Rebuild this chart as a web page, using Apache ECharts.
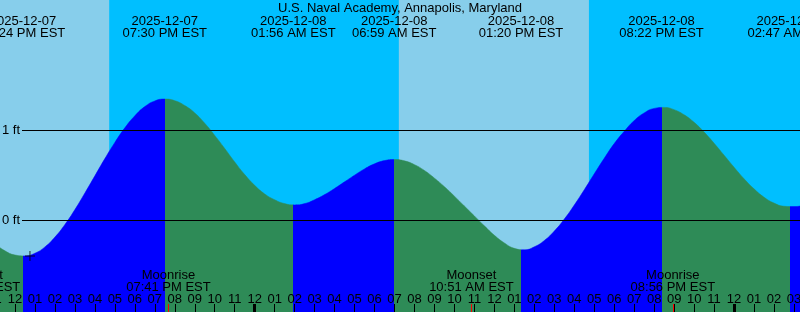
<!DOCTYPE html>
<html><head><meta charset="utf-8">
<script src="https://cdn.jsdelivr.net/npm/echarts@6/dist/echarts.min.js"></script>
<style>html,body{margin:0;padding:0;background:#fff}#c{width:800px;height:312px}</style>
</head><body><div id="c"></div>
<script>
// ---- data (times are EST) ----
const chartTitle = 'U.S. Naval Academy, Annapolis, Maryland';
const extremeDates = ['2025-12-07','2025-12-07','2025-12-08','2025-12-08','2025-12-08','2025-12-08','2025-12-09'];
const extremeClock = ['12:24 PM','07:30 PM','01:56 AM','06:59 AM','01:20 PM','08:22 PM','02:47 AM'];
const extremeKind  = ['low','high','low','high','low','high','low'];
const moonNames = ['Moonset','Moonrise','Moonset','Moonrise'];
const moonDates = ['2025-12-07','2025-12-07','2025-12-08','2025-12-08'];
const moonClock = ['10:09 AM','07:41 PM','10:51 AM','08:56 PM'];
const dayStartDates = ['2025-12-07','2025-12-08'];
const dayStartClock = ['07:12 AM','07:13 AM'];
const dayEndDates = ['2025-12-07','2025-12-08'];
const dayEndClock = ['04:43 PM','04:44 PM'];
// tide curve: hours from midnight 2025-12-08 (EST), height in feet
const tideHours = [-13,-12.5,-12,-11.5,-11,-10.5,-10,-9.5,-9,-8.5,-8,-7.5,-7,-6.5,-6,-5.5,-5,-4.5,-4,-3.5,-3,-2.5,-2,-1.5,-1,-0.5,
  0,0.5,1,1.5,2,2.5,3,3.5,4,4.5,5,5.5,6,6.5,7,7.5,8,8.5,9,9.5,10,10.5,11,11.5,12,12.5,13,13.5,14,14.5,15,15.5,16,16.5,17,17.5,
  18,18.5,19,19.5,20,20.5,21,21.5,22,22.5,23,23.5,24,24.5,25,25.5,26,26.5,27,27.5,28];
const tideFeet = [-0.265,-0.343,-0.389,-0.399,-0.369,-0.299,-0.190,-0.050,0.116,0.300,0.491,0.682,0.862,1.024,1.158,1.260,1.323,1.344,1.326,1.272,1.190,1.075,0.940,0.795,0.645,0.505,
  0.385,0.290,0.225,0.182,0.167,0.182,0.225,0.282,0.350,0.424,0.498,0.568,0.624,0.660,0.672,0.657,0.615,0.550,0.465,0.370,0.265,0.155,0.045,-0.065,-0.170,-0.255,-0.315,-0.331,-0.298,-0.228,-0.123,0.010,0.166,0.336,0.513,0.686,
  0.849,0.985,1.105,1.190,1.240,1.251,1.226,1.169,1.085,0.977,0.853,0.720,0.586,0.458,0.346,0.253,0.188,0.153,0.149,0.165,0.197];
const markDate = '2025-12-07';
const markClock = '12:45 PM';
const markFeet = -0.40;
const levelTicks = [0, 1];
const hourTicks = [-14,-13,-12,-11,-10,-9,-8,-7,-6,-5,-4,-3,-2,-1,0,1,2,3,4,5,6,7,8,9,10,11,12,13,14,15,16,17,18,19,20,21,22,23,24,25,26,27];
const midnightTicks = [0, 24];
const axisHours = [-12.75, 27.3];
const axisFeet = [-1.0222, 2.4444];

// ---- helpers ----
function toHours(date, clock) {
  const day = parseInt(date.slice(8), 10);
  const [hm, ap] = clock.split(' ');
  let [hh, mm] = hm.split(':').map(Number);
  hh = hh % 12 + (ap === 'PM' ? 12 : 0);
  return (day - 8) * 24 + hh + mm / 60;
}
const extremeHours = extremeDates.map((d, i) => toHours(d, extremeClock[i]));
const moonHours = moonDates.map((d, i) => toHours(d, moonClock[i]));
const dayAreas = dayStartDates.map((d, i) => [
  { xAxis: toHours(d, dayStartClock[i]) },
  { xAxis: toHours(dayEndDates[i], dayEndClock[i]) }
]);
const findIdx = (arr, v) => arr.findIndex(t => Math.abs(t - v) < 1e-6);

const W = 800, EXTRA = 40;
const pxPerHour = W / (axisHours[1] - axisHours[0]);
const wideMin = axisHours[0] - EXTRA / pxPerHour;   // decoration axes extend past the left edge

const RISE = '#0000FF', FALL = '#2E8B57';
const pieces = [];
pieces.push({ lt: extremeHours[0], color: extremeKind[0] === 'low' ? FALL : RISE });
for (let i = 0; i < extremeHours.length - 1; i++) {
  pieces.push({ gte: extremeHours[i], lt: extremeHours[i + 1], color: extremeKind[i] === 'low' ? RISE : FALL });
}
const lastK = extremeKind[extremeKind.length - 1];
pieces.push({ gte: extremeHours[extremeHours.length - 1], color: lastK === 'low' ? RISE : FALL });

const FONT = 'Liberation Sans';
const txt = { fontFamily: FONT, fontSize: 13, color: '#000' };
const hourFmt = v => { let h = ((Math.round(v) % 12) + 12) % 12; if (h === 0) h = 12; return (h < 10 ? '0' : '') + h; };

const decoX = {
  type: 'value', gridIndex: 2, min: wideMin, max: axisHours[1], position: 'bottom',
  axisLine: { show: false, onZero: false }, splitLine: { show: false }, z: 10
};

const chart = echarts.init(document.getElementById('c'), null, { renderer: 'canvas' });
chart.setOption({
  animation: false,
  title: { text: chartTitle, left: 'center', top: 2, padding: 0, textStyle: { fontFamily: FONT, fontSize: 13, fontWeight: 'normal', color: '#000', lineHeight: 13 } },
  grid: [
    { left: 0, right: 0, top: 0, bottom: 0, show: true, backgroundColor: '#00BFFF', borderWidth: 0, outerBoundsMode: 'none', containLabel: false },
    { left: 22, right: 0, top: 0, bottom: 0, show: false, outerBoundsMode: 'none', containLabel: false },
    { left: -EXTRA, right: 0, top: 0, bottom: 0, show: false, outerBoundsMode: 'none', containLabel: false }
  ],
  xAxis: [
    { type: 'value', gridIndex: 0, min: axisHours[0], max: axisHours[1], position: 'bottom', z: 10,
      axisLine: { show: false, onZero: false }, splitLine: { show: false }, axisTick: { show: false }, axisLabel: { show: false } },
    Object.assign({}, decoX, {
      axisTick: { show: true, inside: true, length: 8, customValues: hourTicks, lineStyle: { color: '#000', width: 1 } },
      axisLabel: Object.assign({ show: true, inside: true, margin: 13, verticalAlign: 'middle', customValues: hourTicks, hideOverlap: false, formatter: hourFmt }, txt)
    }),
    Object.assign({}, decoX, {
      axisTick: { show: true, inside: true, length: 8, customValues: midnightTicks, lineStyle: { color: '#000', width: 3 } },
      axisLabel: { show: false }
    }),
    Object.assign({}, decoX, {
      axisTick: { show: true, inside: true, length: 8, customValues: moonHours, lineStyle: { color: '#FF0000', width: 1 } },
      axisLabel: Object.assign({ show: true, inside: true, margin: 31, verticalAlign: 'middle', lineHeight: 12, customValues: moonHours, hideOverlap: false,
        formatter: v => { const i = findIdx(moonHours, v); return i < 0 ? '' : moonNames[i] + '\n' + moonClock[i] + ' EST'; } }, txt)
    }),
    Object.assign({}, decoX, {
      position: 'top',
      axisTick: { show: false },
      axisLabel: Object.assign({ show: true, inside: true, margin: 27, verticalAlign: 'middle', lineHeight: 12, customValues: extremeHours, hideOverlap: false,
        formatter: v => { const i = findIdx(extremeHours, v); return i < 0 ? '' : extremeDates[i] + '\n' + extremeClock[i] + ' EST'; } }, txt)
    }),
    { type: 'value', gridIndex: 1, min: axisHours[0], max: axisHours[1], show: false }
  ],
  yAxis: [
    { type: 'value', gridIndex: 0, min: axisFeet[0], max: axisFeet[1], position: 'left', z: 10,
      axisLine: { show: false, onZero: false }, axisTick: { show: false }, splitLine: { show: false },
      axisLabel: Object.assign({ show: true, inside: true, margin: 2, customValues: levelTicks, formatter: v => v + ' ft' }, txt) },
    { type: 'value', gridIndex: 1, min: axisFeet[0], max: axisFeet[1], show: false },
    { type: 'value', gridIndex: 2, min: axisFeet[0], max: axisFeet[1], show: false }
  ],
  visualMap: { type: 'piecewise', show: false, dimension: 0, seriesIndex: 1, pieces: pieces },
  series: [
    { type: 'line', xAxisIndex: 0, yAxisIndex: 0, data: [], z: 1, silent: true,
      markArea: { silent: true, itemStyle: { color: '#87CEEB', opacity: 1 }, label: { show: false }, data: dayAreas } },
    { type: 'line', xAxisIndex: 0, yAxisIndex: 0, z: 2, silent: true, smooth: 0.5, symbol: 'none',
      data: tideHours.map((h, i) => [h, tideFeet[i]]),
      lineStyle: { width: 0.5 }, areaStyle: { opacity: 1, origin: 'start' } },
    { type: 'line', xAxisIndex: 5, yAxisIndex: 1, data: [], z: 5, silent: true,
      markLine: { silent: true, symbol: 'none', label: { show: false }, lineStyle: { color: '#000', width: 1, type: 'solid' },
        data: levelTicks.map(v => ({ yAxis: v })) } },
    { type: 'scatter', xAxisIndex: 0, yAxisIndex: 0, z: 6, silent: true,
      symbol: 'path://M0,4.5H10V5.5H0Z M4.5,0H5.5V10H4.5Z', symbolSize: 10,
      itemStyle: { color: '#000' },
      data: [[toHours(markDate, markClock), markFeet]] }
  ]
});
</script>
</body></html>
